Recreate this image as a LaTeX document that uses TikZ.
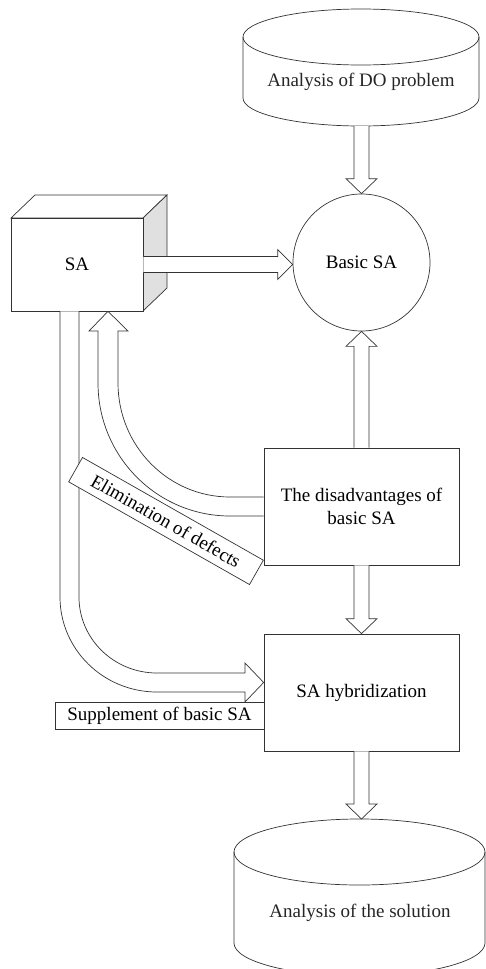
\documentclass[tikz,border=0pt]{standalone}
\usepackage{fontspec}
\setmainfont{Liberation Serif}
\usetikzlibrary{calc}
\tikzset{
  ln/.style={draw=black!80, line width=0.7pt},
  blk/.style={ln, fill=white, line join=miter},
  boxn/.style={ln, fill=white, rectangle, inner sep=0pt, align=center},
  txt/.style={inner sep=0pt, align=center, text=black!85},
}
\newcommand\blkdown[2]{\filldraw[blk] let \p1=(#1), \p2=(#2) in
  (\x1-7.5pt,\y1) -- (\x1-7.5pt,\y2+15pt) -- (\x1-15.5pt,\y2+15pt) -- (\x1,\y2)
  -- (\x1+15.5pt,\y2+15pt) -- (\x1+7.5pt,\y2+15pt) -- (\x1+7.5pt,\y1);}
\newcommand\blkup[2]{\filldraw[blk] let \p1=(#1), \p2=(#2) in
  (\x1-7.5pt,\y1) -- (\x1-7.5pt,\y2-15pt) -- (\x1-15.5pt,\y2-15pt) -- (\x1,\y2)
  -- (\x1+15.5pt,\y2-15pt) -- (\x1+7.5pt,\y2-15pt) -- (\x1+7.5pt,\y1);}
\newcommand\blkright[2]{\filldraw[blk] let \p1=(#1), \p2=(#2) in
  (\x1,\y1+8pt) -- (\x2-15pt,\y1+8pt) -- (\x2-15pt,\y1+15pt) -- (\x2,\y1)
  -- (\x2-15pt,\y1-15pt) -- (\x2-15pt,\y1-8pt) -- (\x1,\y1-8pt);}
\begin{document}
\begin{tikzpicture}[x=1pt, y=-1pt, font=\fontsize{19}{23}\selectfont]
\useasboundingbox (0,0) rectangle (486,969);
\fill[white] (0,0) rectangle (486,969);

% top cylinder
\filldraw[ln, fill=white] (243,37) -- (243,98) arc[start angle=180, end angle=0, x radius=118, y radius=28] -- (479,37);
\draw[ln] (361,37) ellipse [x radius=118, y radius=28];
\coordinate (cyl1) at (361.5,126);
\node[txt] (cyl1t) at (361,82) {Analysis of DO problem};

% bottom cylinder
\filldraw[ln, fill=white] (234,852) -- (234,943) arc[start angle=180, end angle=0, x radius=125.5, y radius=33] -- (485,852);
\draw[ln] (359.5,852) ellipse [x radius=125.5, y radius=33];
\coordinate (cyl2) at (361.5,819);
\node[txt] (cyl2t) at (360,913) {Analysis of the solution};

% SA 3D box
\filldraw[ln, fill=white] (11,218) -- (35,195) -- (167,195) -- (143,218) -- cycle;
\filldraw[ln, fill=black!12] (143,218) -- (167,195) -- (167,288) -- (143,311) -- cycle;
\node[boxn, minimum width=132pt, minimum height=93pt] (sa) at (77,264.5) {SA};

% circle
\node[ln, circle, fill=white, minimum size=137pt, inner sep=0pt] (basic) at (361.5,262.5) {Basic SA};

% boxes
\node[boxn, minimum width=195pt, minimum height=117pt] (dis) at (361.5,506.5) {The disadvantages of\\basic SA};
\node[boxn, minimum width=195pt, minimum height=117pt] (hyb) at (361.5,692.5) {SA hybridization};

% straight block arrows
\blkdown{cyl1}{basic.north}
\blkright{sa.east}{basic.west}
\blkup{dis.north}{basic.south}
\blkdown{dis.south}{hyb.north}
\blkdown{hyb.south}{cyl2}

% curved arrow: disadvantages -> SA
\filldraw[blk] ($(dis.west)+(0,9.5)$) -- (230,516)
  arc[start angle=90, end angle=180, x radius=132, y radius=133]
  -- (98,331) -- (89,331) -- ([xshift=31pt]sa.south) -- (128,331) -- (118,331) -- (118,383)
  arc[start angle=180, end angle=90, x radius=112, y radius=114]
  -- ($(dis.west)+(0,-9.5)$);

% curved arrow: SA -> hybridization
\filldraw[blk] ([xshift=-17pt]sa.south) -- (60,597)
  arc[start angle=180, end angle=90, x radius=97, y radius=95]
  -- (245,692) -- (245,702) -- ($(hyb.west)+(0,-10)$) -- (245,663) -- (245,673) -- (157,673)
  arc[start angle=90, end angle=180, x radius=78, y radius=76]
  -- ([xshift=2pt]sa.south);

% labels
\node[boxn, minimum width=208pt, minimum height=28pt, rotate=-29.6] (elim) at (166,521) {Elimination of defects};
\node[boxn, minimum width=209pt, minimum height=27pt] (supp) at (159.5,715.5) {Supplement of basic SA};
\end{tikzpicture}
\end{document}
